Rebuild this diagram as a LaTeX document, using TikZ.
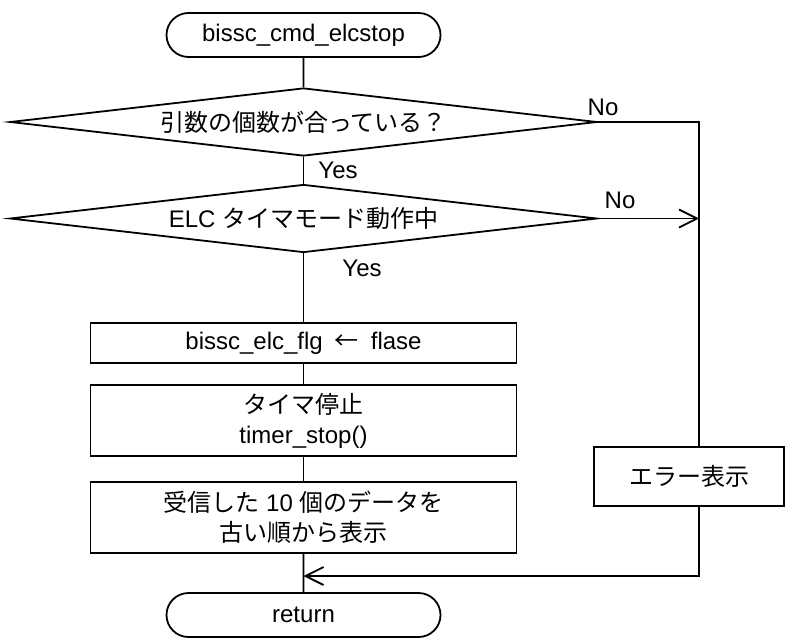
\documentclass[tikz,border=0pt]{standalone}
\usepackage{fontspec}
\setmainfont{Liberation Sans}
\newfontfamily\jp{Noto Sans CJK JP}
\usetikzlibrary{shapes.geometric,shapes.misc,arrows.meta}

\tikzset{
  termbox/.style={draw, rounded rectangle, minimum width=137pt, minimum height=22pt, inner sep=0pt},
  decbox/.style={draw, diamond, aspect=8.6, minimum width=293.5pt, minimum height=34pt, inner sep=0pt},
  procbox/.style={draw, rectangle, minimum width=213pt, align=center, inner sep=0pt},
}

\begin{document}
\begin{tikzpicture}[x=0.5pt,y=-0.5pt,line width=0.9pt,>={Straight Barb[length=9pt,width=9pt]},font=\fontsize{12pt}{15pt}\selectfont]
\useasboundingbox (0,0) rectangle (785,637);
\node[termbox] (start) at (303.5,35) {bissc\_cmd\_elcstop};
\node[decbox] (argchk) at (303.5,122) {\jp 引数の個数が合っている？};
\node[decbox] (modechk) at (303.5,218.5) {ELC {\jp タイマモード動作中}};
\node[procbox, minimum height=20pt] (clrflg) at (303.5,343) {bissc\_elc\_flg\enspace{\jp ←}\enspace flase};
\node[procbox, minimum height=35.5pt] (tstop) at (303.5,420.5) {{\jp タイマ停止}\\timer\_stop()};
\node[procbox, minimum height=35.5pt] (show) at (303.5,517.5) {{\jp 受信した} 10 {\jp 個のデータを}\\{\jp 古い順から表示}};
\node[procbox, minimum width=95pt, minimum height=29.5pt] (err) at (689,476.5) {\jp エラー表示};
\node[termbox] (ret) at (303.5,615) {return};
% labels
\node (no1) at (603,107) {No};
\node (no2) at (620,200) {No};
\node (yes1) at (338,170) {Yes};
\node (yes2) at (362,268) {Yes};
% flow
\coordinate (nocol) at (699,576);
\draw (start) -- (argchk);
\draw (argchk) -- (modechk);
\draw (modechk) -- (clrflg);
\draw (clrflg) -- (tstop);
\draw (tstop) -- (show);
\draw (show) -- (ret);
\draw (argchk.east) -- (argchk.east -| nocol) -- (err.north -| nocol);
\draw [->] (modechk.east) -- (modechk.east -| nocol);
\draw [->] (err.south -| nocol) -- (nocol) -- (nocol -| ret.north);
\end{tikzpicture}
\end{document}
